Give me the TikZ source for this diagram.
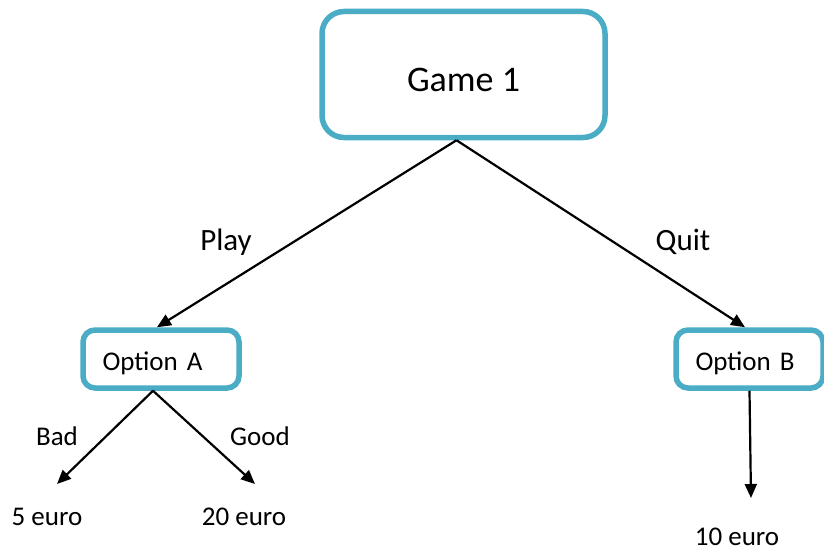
\documentclass[tikz,border=0pt]{standalone}
\usepackage{fontspec}
\setmainfont{Carlito}
\usetikzlibrary{arrows.meta}
\definecolor{boxblue}{HTML}{4BACC6}

\begin{document}
\begin{tikzpicture}[
  x=1pt, y=-1pt,
  gamebox/.style={draw=boxblue, line width=5.5pt, rounded corners=22pt, fill=white,
    minimum width=283pt, minimum height=126pt, inner sep=0pt, text height=34pt, text depth=0pt,
    font=\fontsize{36}{40}\selectfont},
  optbox/.style={draw=boxblue, line width=5.5pt, rounded corners=12pt, fill=white,
    minimum height=58pt, inner xsep=19.5pt, inner ysep=0pt, align=left,
    text height=23.4pt, text depth=0pt, font=\fontsize{27}{30}\selectfont},
  edgelab/.style={anchor=base, font=\fontsize{31}{34}\selectfont},
  small/.style={anchor=base, font=\fontsize{27}{30}\selectfont},
  arr/.style={line width=2.2pt, -{Triangle[length=14pt,width=12pt]}}
]
\useasboundingbox (0,0) rectangle (824,551);

% Top game node
\node[gamebox] (game) at (463.5, 74.5) {Game 1};

% Options
\node[optbox, text width=117pt] (optA) at (161, 359) {Option A};
\node[optbox, text width=108pt] (optB) at (749.5, 359) {Option B};

% Branches from the game
\draw[arr] ([xshift=-7pt]game.south) -- ([xshift=-4pt]optA.north);
\draw[arr] ([xshift=-7pt]game.south) -- ([xshift=-4.5pt]optB.north);
\node[edgelab] (play) at (226, 250) {Play};
\node[edgelab] (quit) at (683, 250) {Quit};

% Outcomes of option A
\coordinate (badend) at (57, 484);
\coordinate (goodend) at (255, 484);
\draw[arr] ([xshift=-8pt]optA.south) -- (badend);
\draw[arr] ([xshift=-8pt]optA.south) -- (goodend);
\node[small] (bad) at (57, 445.7) {Bad};
\node[small] (good) at (260, 445.7) {Good};
\node[small] (five) at (47, 525.7) {5 euro};
\node[small] (twenty) at (244, 525.7) {20 euro};

% Outcome of option B
\coordinate (quitend) at (751, 498);
\draw[arr] (optB.south) -- (quitend);
\node[small] (ten) at (737, 545.7) {10 euro};
\end{tikzpicture}
\end{document}
